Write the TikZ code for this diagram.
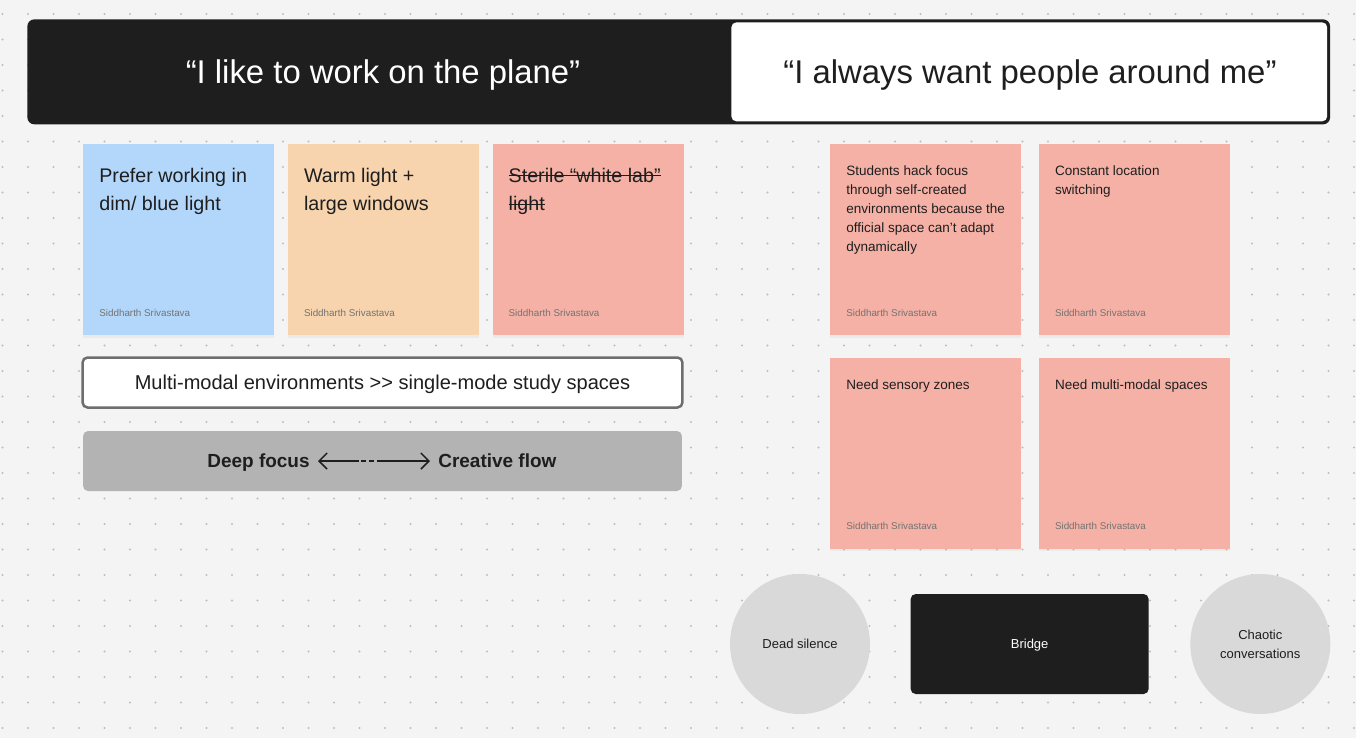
\documentclass[tikz,border=0pt]{standalone}
\usepackage{fontspec}
\setmainfont{Liberation Sans}
\usetikzlibrary{positioning, arrows.meta, shadows}

\definecolor{board}{HTML}{F4F4F4}
\definecolor{griddot}{HTML}{BEBEBE}
\definecolor{ink}{HTML}{1E1E1E}
\definecolor{skyblue}{HTML}{B3D7FA}
\definecolor{peach}{HTML}{F7D4AE}
\definecolor{salmon}{HTML}{F5B1A5}
\definecolor{bubble}{HTML}{D9D9D9}
\definecolor{bargray}{HTML}{B3B3B3}
\definecolor{frame}{HTML}{6E6E6E}

% struck-through text, one line at a time
\newcommand{\strikeout}[1]{\setbox0\hbox{#1}\rlap{\rule[0.3em]{\wd0}{0.8pt}}\box0}

\begin{document}
\begin{tikzpicture}[
    x=0.02cm, y=-0.02cm,
    sticky/.style={
        minimum width=3.82cm, minimum height=3.82cm,
        inner sep=0pt, anchor=north west,
        drop shadow={opacity=0.08, shadow xshift=0pt, shadow yshift=-0.05cm}
    },
    bigtxt/.style={anchor=north west, align=left, inner sep=0pt, text=ink,
        font=\fontsize{11.2}{16.4}\selectfont},
    smalltxt/.style={anchor=north west, align=left, inner sep=0pt, text=ink,
        font=\fontsize{7.7}{10.8}\selectfont},
    author/.style={anchor=south west, inner sep=0pt, text=black!55,
        font=\fontsize{5.6}{6}\selectfont},
    bubble/.style={circle, fill=bubble, minimum size=2.8cm, inner sep=0pt,
        align=center, text=ink, font=\fontsize{7.4}{10.8}\selectfont},
    arrowline/.style={{Straight Barb[length=1.6mm]}-{Straight Barb[length=1.6mm]}, line width=0.85pt, ink,
        dash pattern=on 0.78cm off 0.05cm on 0.1cm off 0.06cm on 0.1cm off 0.05cm on 2cm}
]

% Board with dot grid
\useasboundingbox[fill=board] (0,0) rectangle (1356,738);
\foreach \i in {0,...,53}
    \foreach \j in {0,...,28}
        \fill[griddot] (2.5+25.5*\i, 14+25.5*\j) circle[radius=0.022cm];

% Banner with the two quotes
\node[fill=ink, rounded corners=0.14cm, minimum width=26.06cm, minimum height=2.1cm,
    anchor=north west, inner sep=0pt] (banner) at (27,19) {};
\node[fill=white, rounded corners=0.1cm, minimum width=11.92cm, minimum height=1.98cm,
    anchor=north west, inner sep=0pt] (quotebox) at (731,22) {};
\node[text=white, font=\fontsize{18.7}{20}\selectfont] (plane) at (383,75) {“I like to work on the plane”};
\node[text=ink, font=\fontsize{18.7}{20}\selectfont] (people) at (1030,75) {“I always want people around me”};

% Left stickies
\node[sticky, fill=skyblue] (blue) at (83,144) {};
\node[sticky, fill=peach, right=0.26cm of blue] (warm) {};
\node[sticky, fill=salmon, right=0.26cm of warm] (sterile) {};

\node[bigtxt, below right=0.47cm and 0.32cm of blue.north west] (blue-txt) {Prefer working in\\dim/ blue light};
\node[bigtxt, below right=0.47cm and 0.32cm of warm.north west] (warm-txt) {Warm light +\\large windows};
\node[bigtxt, below right=0.47cm and 0.32cm of sterile.north west] (sterile-txt) {\strikeout{Sterile “white lab”}\\\strikeout{light}};

\node[author, above right=0.38cm and 0.32cm of blue.south west] (blue-by) {Siddharth Srivastava};
\node[author, above right=0.38cm and 0.32cm of warm.south west] (warm-by) {Siddharth Srivastava};
\node[author, above right=0.38cm and 0.32cm of sterile.south west] (sterile-by) {Siddharth Srivastava};

% Right stickies
\node[sticky, fill=salmon] (hack) at (830,144) {};
\node[sticky, fill=salmon, right=0.34cm of hack] (switch) {};
\node[sticky, fill=salmon, below=0.44cm of hack] (zones) {};
\node[sticky, fill=salmon, below=0.44cm of switch] (multi) {};

\node[smalltxt, below right=0.43cm and 0.32cm of hack.north west] (hack-txt) {Students hack focus\\through self-created\\environments because the\\official space can’t adapt\\dynamically};
\node[smalltxt, below right=0.43cm and 0.32cm of switch.north west] (switch-txt) {Constant location\\switching};
\node[smalltxt, below right=0.43cm and 0.32cm of zones.north west] (zones-txt) {Need sensory zones};
\node[smalltxt, below right=0.43cm and 0.32cm of multi.north west] (multi-txt) {Need multi-modal spaces};

\node[author, above right=0.38cm and 0.32cm of hack.south west] (hack-by) {Siddharth Srivastava};
\node[author, above right=0.38cm and 0.32cm of switch.south west] (switch-by) {Siddharth Srivastava};
\node[author, above right=0.38cm and 0.32cm of zones.south west] (zones-by) {Siddharth Srivastava};
\node[author, above right=0.38cm and 0.32cm of multi.south west] (multi-by) {Siddharth Srivastava};

% Insight boxes
\node[draw=frame, line width=0.05cm, fill=white, rounded corners=0.1cm,
    minimum width=12cm, minimum height=1cm, text=ink, text depth=0pt,
    font=\fontsize{11.4}{12}\selectfont] (modal) at (382.5,382.5)
    {Multi-modal environments {>}{>} single-mode study spaces};
\node[fill=bargray, rounded corners=0.1cm, minimum width=11.98cm, minimum height=1.2cm]
    (spectrum) at (382.5,461) {};
\node[anchor=base east, inner sep=0pt, text=ink, font=\bfseries\fontsize{10.8}{12}\selectfont]
    (deep) at (310,467) {Deep focus};
\node[anchor=base west, inner sep=0pt, text=ink, font=\bfseries\fontsize{10.8}{12}\selectfont]
    (flow) at (438,467) {Creative flow};
\draw[arrowline, shorten <=0.16cm, shorten >=0.16cm] (deep.east |- 0,461) -- (flow.west |- 0,461);

% Bottom scale
\node[bubble] (silence) at (800,644) {Dead silence};
\node[fill=ink, rounded corners=0.1cm, minimum width=4.76cm, minimum height=2cm,
    text=white, text depth=0pt, font=\fontsize{7.4}{10.8}\selectfont, right=0.8cm of silence] (bridge) {Bridge};
\node[bubble, right=0.82cm of bridge] (chaos) {Chaotic\\conversations};

\end{tikzpicture}
\end{document}
